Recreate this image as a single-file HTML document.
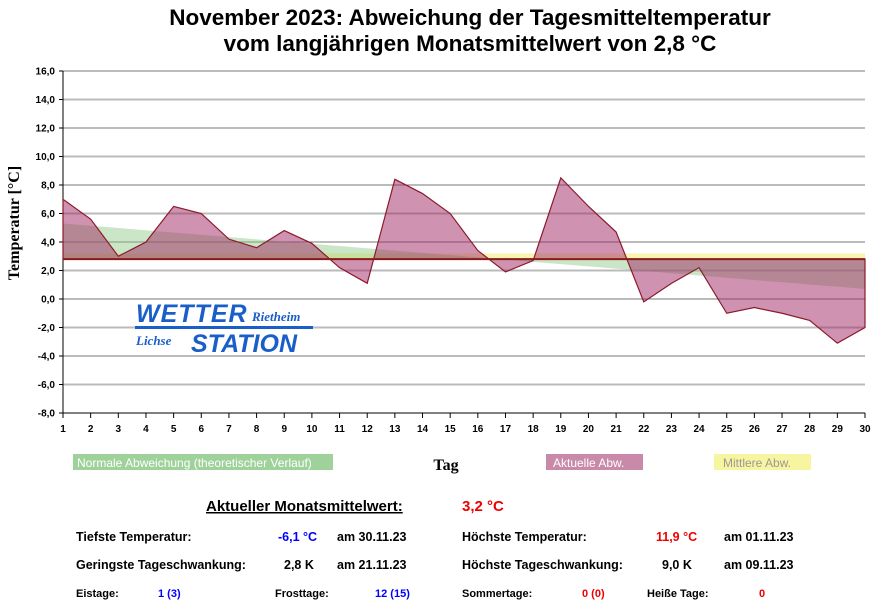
<!DOCTYPE html><html><head><style>
body{margin:0;background:#fff;width:877px;height:605px;overflow:hidden;font-family:"Liberation Sans",Arial,sans-serif}
svg text{font-family:"Liberation Sans",Arial,sans-serif}
</style></head><body>
<svg width="877" height="605" xmlns="http://www.w3.org/2000/svg">
<text x="470" y="25" font-size="22.5" font-weight="bold" text-anchor="middle">November 2023: Abweichung der Tagesmitteltemperatur</text>
<text x="470" y="51" font-size="22.5" font-weight="bold" text-anchor="middle">vom langjährigen Monatsmittelwert von 2,8 °C</text>
<g id="grid"></g>
<g id="plot"></g>
<text transform="translate(19,223) rotate(-90)" font-size="16" font-weight="bold" text-anchor="middle" style="font-family:'Liberation Serif',serif">Temperatur [°C]</text>
<g font-style="italic" font-weight="bold" fill="#1a5fc8">
<text x="136" y="322" font-size="25" style="letter-spacing:1px">WETTER</text>
<text x="252" y="321" font-size="13" style="font-family:'Liberation Serif',serif">Rietheim</text>
<rect x="135" y="326" width="178" height="3" fill="#1a5fc8"/>
<text x="136" y="345" font-size="13" style="font-family:'Liberation Serif',serif">Lichse</text>
<text x="191" y="352" font-size="25">STATION</text>
</g>
<rect x="73" y="454" width="260" height="16" fill="#9fd19a"/><text x="77" y="467" font-size="12" fill="#fff">Normale Abweichung (theoretischer Verlauf)</text>
<text x="446" y="470" font-size="16" font-weight="bold" style="font-family:'Liberation Serif',serif" text-anchor="middle">Tag</text>
<rect x="546" y="454" width="97" height="16" fill="#c98aaa"/><text x="553" y="467" font-size="12" fill="#fff">Aktuelle Abw.</text>
<rect x="714" y="454" width="97" height="16" fill="#f8f5a0"/><text x="723" y="467" font-size="12" fill="#999">Mittlere Abw.</text>
<text x="206" y="511" font-size="15" font-weight="bold" text-decoration="underline">Aktueller Monatsmittelwert:</text>
<text x="462" y="511" font-size="15" font-weight="bold" fill="#e00">3,2 °C</text>
<g font-size="12.5" font-weight="bold">
<text x="76" y="541">Tiefste Temperatur:</text><text x="278" y="541" fill="#00f">-6,1 °C</text><text x="337" y="541">am 30.11.23</text>
<text x="462" y="541">Höchste Temperatur:</text><text x="656" y="541" fill="#e00">11,9 °C</text><text x="724" y="541">am 01.11.23</text>
<text x="76" y="569">Geringste Tageschwankung:</text><text x="284" y="569">2,8 K</text><text x="337" y="569">am 21.11.23</text>
<text x="462" y="569">Höchste Tageschwankung:</text><text x="662" y="569">9,0 K</text><text x="724" y="569">am 09.11.23</text>
</g>
<g font-size="11" font-weight="bold">
<text x="76" y="597">Eistage:</text><text x="158" y="597" fill="#00f">1 (3)</text>
<text x="275" y="597">Frosttage:</text><text x="375" y="597" fill="#00f">12 (15)</text>
<text x="462" y="597">Sommertage:</text><text x="582" y="597" fill="#e00">0 (0)</text>
<text x="647" y="597">Heiße Tage:</text><text x="759" y="597" fill="#e00">0</text>
</g>
</svg>
<script>
const x=d=>63+(d-1)*(802/29), y=v=>71+(16-v)*14.25;
const NS="http://www.w3.org/2000/svg";
const g=document.getElementById('grid'),p=document.getElementById('plot');
function el(t,a,par){const e=document.createElementNS(NS,t);for(const k in a)e.setAttribute(k,a[k]);if(a.txt)e.textContent=a.txt;(par||g).appendChild(e);return e;}
for(let v=16;v>=-8;v-=2){const yy=y(v);const light=(v%4!==0);
el('line',{x1:63,x2:865,y1:yy,y2:yy,stroke:light?'#bbb':'#777','stroke-width':light?2:1});
el('line',{x1:59,x2:63,y1:yy,y2:yy,stroke:'#000'});
el('text',{x:55,y:yy+3.5,'font-size':10,'font-weight':'bold','text-anchor':'end',txt:v.toFixed(1).replace('.',',')});}
el('line',{x1:63,x2:63,y1:71,y2:413,stroke:'#000'});
el('line',{x1:63,x2:865,y1:413,y2:413,stroke:'#000'});
for(let d=1;d<=30;d++){el('line',{x1:x(d),x2:x(d),y1:413,y2:418,stroke:'#000'});
el('text',{x:x(d),y:432,'font-size':10,'font-weight':'bold','text-anchor':'middle',txt:d});}
const b=y(2.8);
el('rect',{x:63,y:y(3.2),width:802,height:b-y(3.2),fill:'#f8f5b0'},p);
el('polygon',{points:`63,${b} 63,${y(5.3)} 865,${y(0.7)} 865,${b}`,fill:'rgba(140,200,130,0.45)'},p);
const data=[7.0,5.6,3.0,4.0,6.5,6.0,4.2,3.6,4.8,3.9,2.2,1.1,8.4,7.4,6.0,3.4,1.9,2.7,8.5,6.5,4.7,-0.2,1.1,2.2,-1.0,-0.6,-1.0,-1.5,-3.1,-2.0];
let pts=data.map((v,i)=>x(i+1)+','+y(v)).join(' ');
el('polygon',{points:`63,${b} ${pts} 865,${b}`,fill:'rgba(160,40,100,0.5)',stroke:'#8b1a2a','stroke-width':1.2},p);
el('line',{x1:63,x2:865,y1:b,y2:b,stroke:'#8b1a1a','stroke-width':2},p);
</script>
</body></html>
